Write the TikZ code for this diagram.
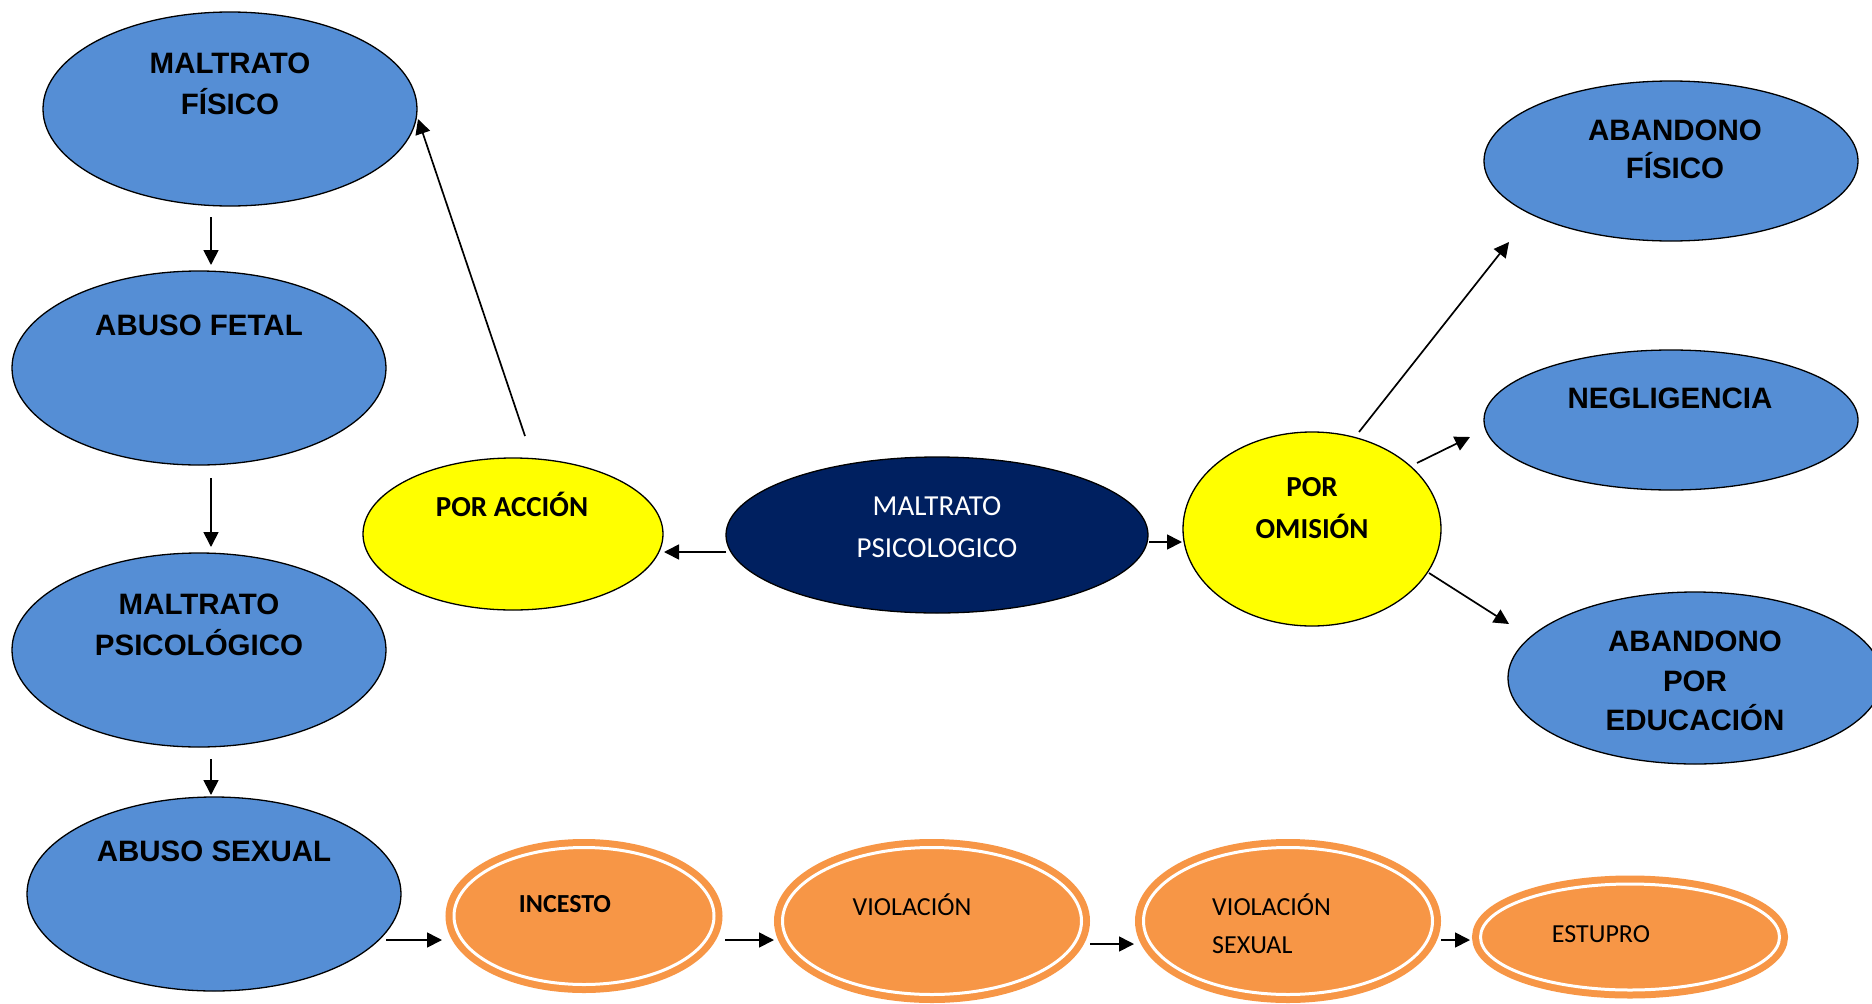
\documentclass[tikz,border=0pt]{standalone}
\usepackage{fontspec}
\newfontfamily\arialfont{Liberation Sans}
\newfontfamily\calfont{Carlito}
\usetikzlibrary{shapes.geometric,arrows.meta}
\definecolor{blueC}{HTML}{558ED5}
\definecolor{navyC}{HTML}{002060}
\definecolor{yelC}{HTML}{FFFF00}
\definecolor{oraC}{HTML}{F79646}
\begin{document}
\begin{tikzpicture}[x=1pt,y=-1pt,
  blueell/.style={ellipse, draw=black, line width=1.3pt, fill=blueC, inner sep=0pt},
  navyell/.style={ellipse, draw=black, line width=1.3pt, fill=navyC, inner sep=0pt},
  yelell/.style={ellipse, draw=black, line width=1.3pt, fill=yelC, inner sep=0pt},
  oraell/.style={ellipse, draw=oraC, fill=oraC, line width=7pt, double=white, double distance=3pt, inner sep=0pt},
  arr/.style={line width=1.7pt, -{Triangle[length=15pt,width=15pt]}},
  btxt/.style={font=\arialfont\bfseries\fontsize{29.5}{41}\selectfont, align=center, inner sep=0pt},
  ctxt/.style={font=\calfont\fontsize{29}{42}\selectfont, align=center, inner sep=0pt, text=white},
  ytxt/.style={font=\calfont\bfseries\fontsize{29}{42}\selectfont, align=center, inner sep=0pt},
  otxt/.style={font=\calfont\fontsize{26}{38}\selectfont, inner sep=0pt},
]
\useasboundingbox (0,0) rectangle (1872,1004);
\fill[white] (0,0) rectangle (1872,1004);

% left column
\node[blueell, minimum width=374pt, minimum height=194pt] (mf) at (230,109) {};
\node[blueell, minimum width=374pt, minimum height=194pt] (af) at (199,368) {};
\node[blueell, minimum width=374pt, minimum height=194pt] (mp) at (199,650) {};
\node[blueell, minimum width=374pt, minimum height=194pt] (as) at (214,894) {};
\node[btxt] (tmf) at (230,84) {MALTRATO\\FÍSICO};
\node[btxt] (taf) at (199,325) {ABUSO FETAL};
\node[btxt] (tmp) at (199,625) {MALTRATO\\PSICOLÓGICO};
\node[btxt] (tas) at (214,851) {ABUSO SEXUAL};

% middle
\node[yelell, minimum width=300pt, minimum height=152pt] (pa) at (513,534) {};
\node[ytxt] (tpa) at (512,504) {POR ACCIÓN};
\node[navyell, minimum width=422pt, minimum height=156pt] (mc) at (937,535) {};
\node[ctxt] (tmc) at (937,527) {MALTRATO\\PSICOLOGICO};
\node[yelell, minimum width=258pt, minimum height=194pt] (po) at (1312,529) {};
\node[ytxt] (tpo) at (1312,508) {POR\\OMISIÓN};

% right column
\node[blueell, minimum width=374pt, minimum height=160pt] (abf) at (1671,161) {};
\node[blueell, minimum width=374pt, minimum height=140pt] (neg) at (1671,420) {};
\node[blueell, minimum width=374pt, minimum height=172pt] (abe) at (1695,678) {};
\node[btxt, font=\arialfont\bfseries\fontsize{29.5}{38}\selectfont] (tabf) at (1675,149) {ABANDONO\\FÍSICO};
\node[btxt] (tneg) at (1670,398) {NEGLIGENCIA};
\node[btxt, font=\arialfont\bfseries\fontsize{29.5}{39.5}\selectfont] (tabe) at (1695,681) {ABANDONO\\POR\\EDUCACIÓN};

% bottom orange
\node[oraell, minimum width=260pt, minimum height=137pt] (inc) at (584,916) {};
\node[oraell, minimum width=299pt, minimum height=147pt] (vio) at (932,921) {};
\node[oraell, minimum width=289pt, minimum height=147pt] (vs) at (1288,921) {};
\node[oraell, minimum width=299pt, minimum height=106pt] (est) at (1630,937) {};
\node[otxt, font=\calfont\bfseries\fontsize{26}{38}\selectfont] (tinc) at (565,904) {INCESTO};
\node[otxt] (tvio) at (912,905) {VIOLACIÓN};
\node[otxt, anchor=west, align=left] (tvs) at (1212,924) {VIOLACIÓN\\SEXUAL};
\node[otxt] (test) at (1601,934) {ESTUPRO};

% arrows
\draw[arr] ([shift={(-19,108)}]mf.center) -- ([shift={(12,-103)}]af.center);
\draw[arr] ([shift={(12,110)}]af.center) -- ([shift={(12,-103)}]mp.center);
\draw[arr] ([shift={(12,109)}]mp.center) -- ([shift={(-3,-99)}]as.center);
\draw[arr] ([shift={(12,-98)}]pa.center) -- ([shift={(188,10)}]mf.center);
\draw[arr] ([shift={(-211,17)}]mc.center) -- ([shift={(151,18)}]pa.center);
\draw[arr] ([shift={(212,7)}]mc.center) -- ([shift={(-130,13)}]po.center);
\draw[arr] ([shift={(47,-97)}]po.center) -- ([shift={(-162,81)}]abf.center);
\draw[arr] ([shift={(105,-66)}]po.center) -- ([shift={(-201,17)}]neg.center);
\draw[arr] ([shift={(117,44)}]po.center) -- ([shift={(-186,-54)}]abe.center);
\draw[arr] ([shift={(172,46)}]as.center) -- ([shift={(-142,24)}]inc.center);
\draw[arr] ([shift={(141,24)}]inc.center) -- ([shift={(-158,19)}]vio.center);
\draw[arr] ([shift={(158,23)}]vio.center) -- ([shift={(-154,23)}]vs.center);
\draw[arr] ([shift={(153,19)}]vs.center) -- ([shift={(-160,3)}]est.center);
\end{tikzpicture}
\end{document}
